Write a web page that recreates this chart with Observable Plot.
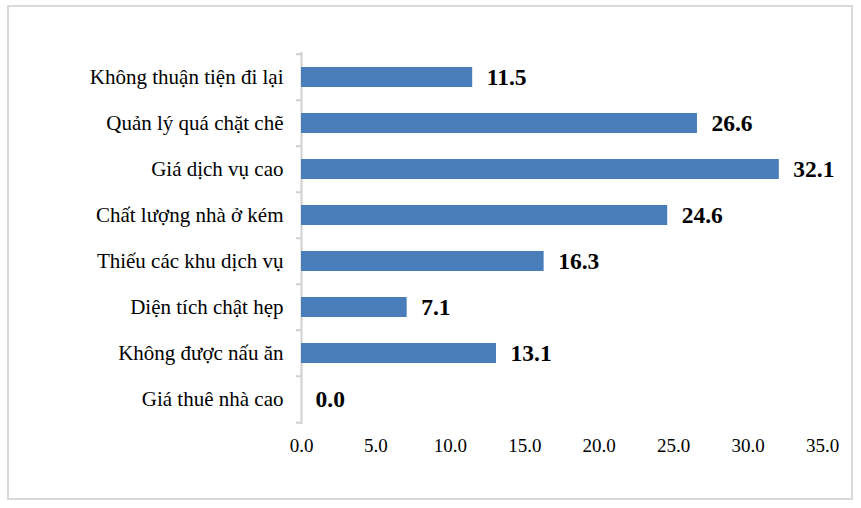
<!DOCTYPE html>
<html>
<head>
<meta charset="utf-8">
<script src="https://cdn.jsdelivr.net/npm/d3@7"></script>
<script src="https://cdn.jsdelivr.net/npm/@observablehq/plot@0.6"></script>
<style>
  html, body { margin: 0; padding: 0; background: #fff; }
  #wrap { position: relative; width: 861px; height: 508px; }
  #border { position: absolute; left: 7px; top: 5px; width: 842px; height: 491px; border: 2px solid #d9d9d9; box-sizing: content-box; pointer-events: none; }
  svg { position: absolute; left: 0; top: 0; }
  svg text { font-family: "Liberation Serif", "Times New Roman", serif !important; }
</style>
</head>
<body>
<div id="wrap"><div id="border"></div></div>
<script>
const categories = [
  "Không thuận tiện đi lại",
  "Quản lý quá chặt chẽ",
  "Giá dịch vụ cao",
  "Chất lượng nhà ở kém",
  "Thiếu các khu dịch vụ",
  "Diện tích chật hẹp",
  "Không được nấu ăn",
  "Giá thuê nhà cao"
];
const values = [11.5, 26.6, 32.1, 24.6, 16.3, 7.1, 13.1, 0.0];
const xTicks = [0, 5, 10, 15, 20, 25, 30, 35];

const data = categories.map((c, i) => ({category: c, value: values[i]}));

const W = 861, H = 508, mt = 52, mb = 84, ml = 301, mr = 39;
const bw = (H - mt - mb) / categories.length;
const pxPerUnit = (W - ml - mr) / 35;

const chart = Plot.plot({
  width: W,
  height: H,
  marginLeft: ml,
  marginRight: mr,
  marginTop: mt,
  marginBottom: mb,
  style: {fontFamily: "'Liberation Serif', 'Times New Roman', serif", background: "transparent", color: "#000"},
  x: {domain: [0, 35], ticks: xTicks, tickFormat: d => d.toFixed(1)},
  y: {domain: categories, paddingInner: 0.57, paddingOuter: 0.285},
  marks: [
    Plot.axisX({ticks: xTicks, tickFormat: d => d.toFixed(1), tickSize: 0, tickPadding: 14, fontSize: 19, label: null, fill: "#000"}),
    Plot.axisY({tickSize: 0, tickPadding: 18, fontSize: 21, label: null, fill: "#000"}),
    Plot.ruleX([0], {stroke: "#d0d0d0", strokeWidth: 2}),
    Plot.ruleY(categories, {y: d => d, x1: -5 / pxPerUnit, x2: 0, stroke: "#d0d0d0", strokeWidth: 2, dy: -bw / 2}),
    Plot.ruleY([categories[categories.length - 1]], {y: d => d, x1: -5 / pxPerUnit, x2: 0, stroke: "#d0d0d0", strokeWidth: 2, dy: bw / 2}),
    Plot.barX(data, {x: "value", y: "category", fill: "#4a7ebb"}),
    Plot.text(data, {x: "value", y: "category", text: d => d.value.toFixed(1), textAnchor: "start", dx: 14, fontSize: 23.5, fontWeight: "bold", fill: "#000"})
  ]
});
document.getElementById("wrap").appendChild(chart);
</script>
</body>
</html>
